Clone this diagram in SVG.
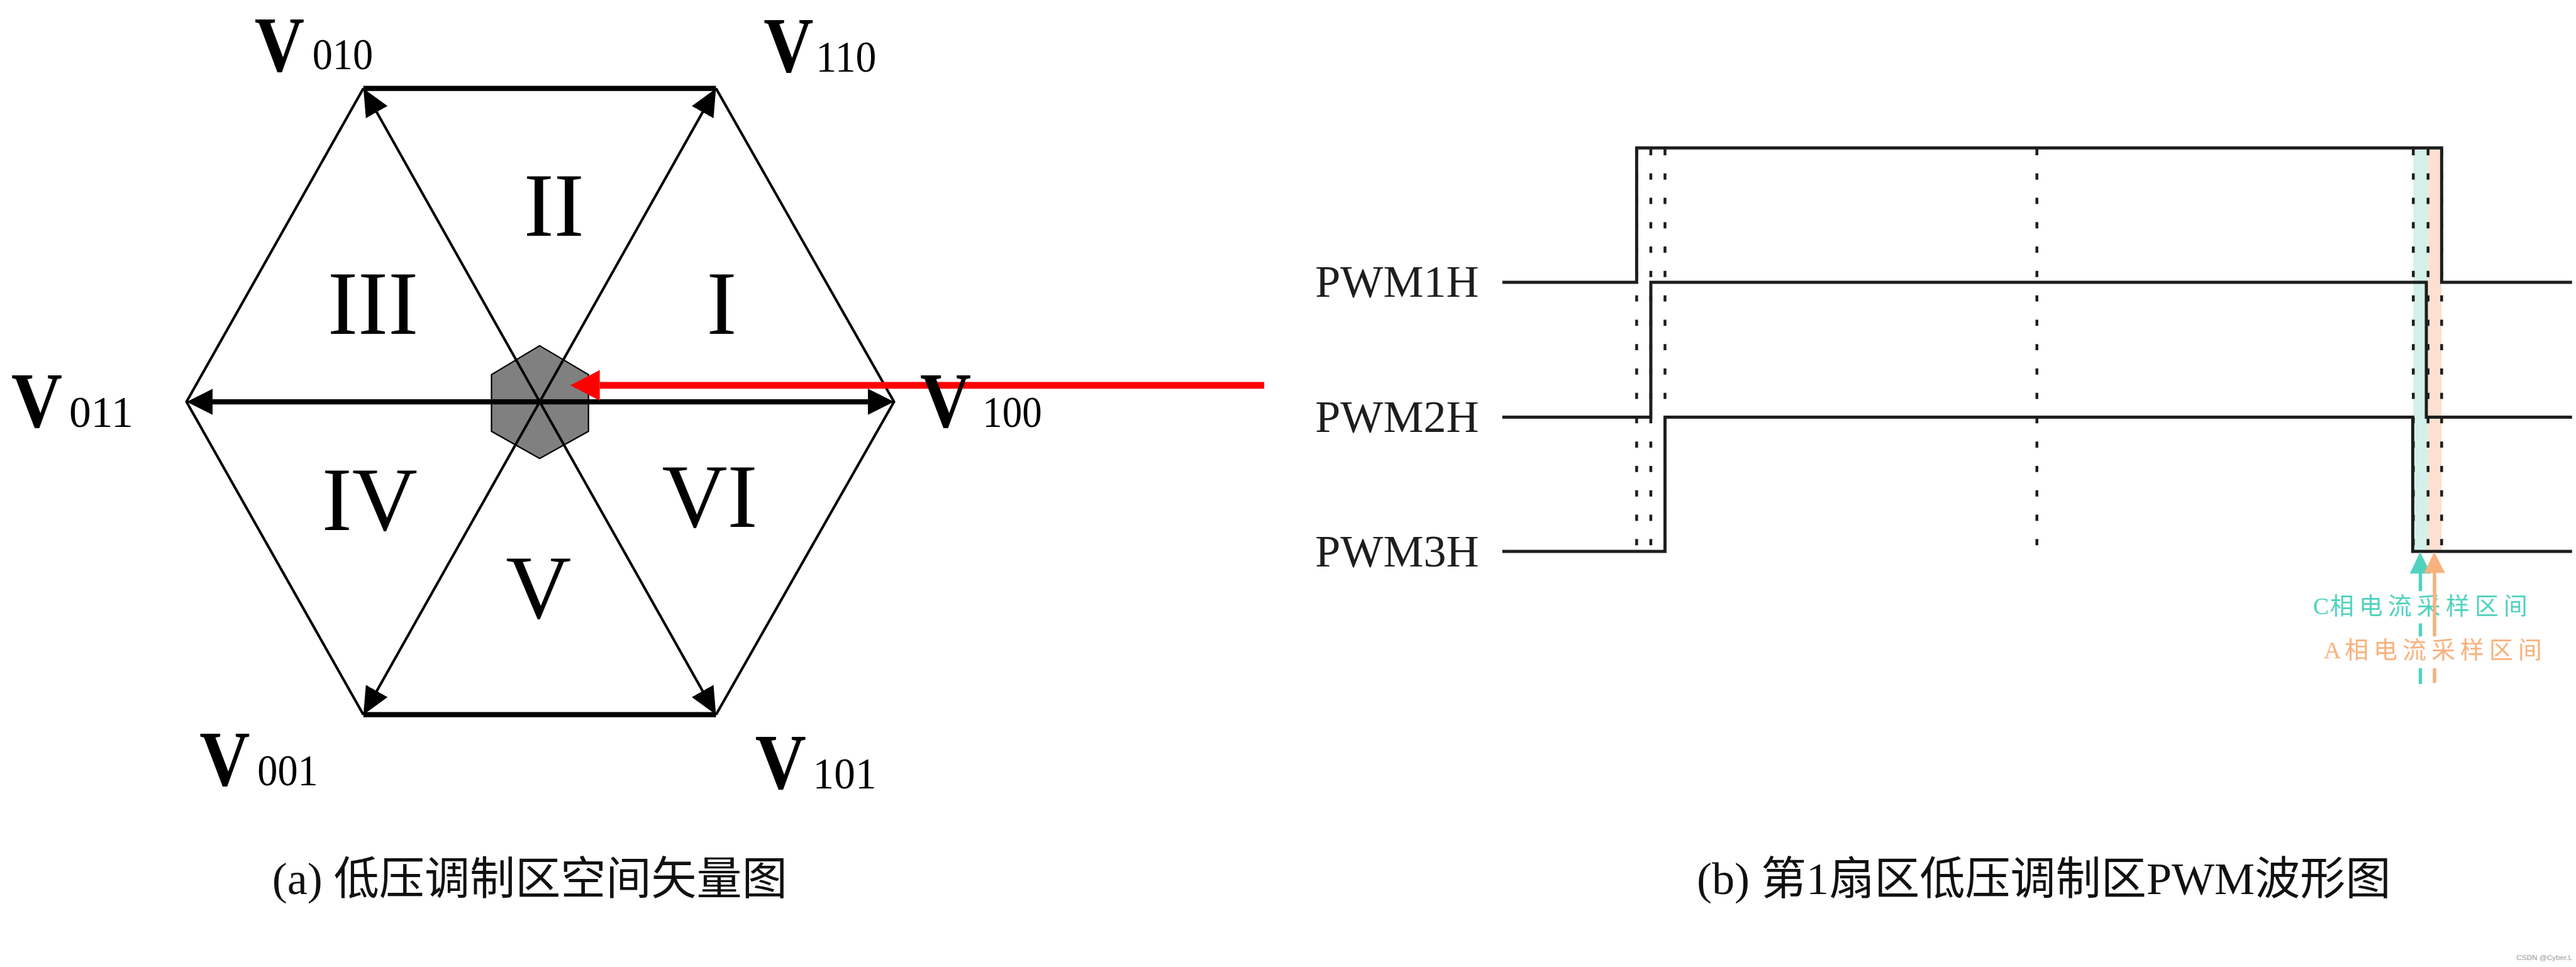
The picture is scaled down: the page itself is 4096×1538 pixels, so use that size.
<svg xmlns="http://www.w3.org/2000/svg" width="4096" height="1538" viewBox="0 0 4096 1538">
<defs>
<style>
.thin{stroke:#000;stroke-width:4.5;fill:none}
.thick{stroke:#000;stroke-width:9;fill:none}
.vb{font-family:"Liberation Serif",serif;font-weight:bold;font-size:138px;fill:#000}
.vs{font-family:"Liberation Serif",serif;font-size:78px;fill:#000}
.rn{font-family:"Liberation Serif",serif;font-size:160px;text-anchor:middle;fill:#000}
.wave{stroke:#1e1e1e;stroke-width:5.5;fill:none}
.dash{stroke:#1e1e1e;stroke-width:5;stroke-dasharray:11 32;fill:none}
.lbl{font-family:"Liberation Serif",serif;font-size:80px;fill:#1e1e1e}
.cap{font-family:"Liberation Serif","Noto Sans CJK SC",serif;font-size:80px;fill:#111}
.note{font-family:"Liberation Serif","Noto Sans CJK SC",serif;font-size:42px}
.teal{fill:#4fd3bf}
.orange{fill:#f8b27d}
.tealS{stroke:#4fd3bf;stroke-width:6;fill:none}
.orangeS{stroke:#f8b27d;stroke-width:6;fill:none}
</style>
<marker id="ahd" markerUnits="userSpaceOnUse" viewBox="0 0 48 44" markerWidth="48" markerHeight="44" refX="4" refY="22" orient="auto">
<path d="M0,0 L48,22 L0,44 z" fill="#000"/>
</marker>
<marker id="ahh" markerUnits="userSpaceOnUse" viewBox="0 0 46 46" markerWidth="46" markerHeight="46" refX="0" refY="23" orient="auto-start-reverse">
<path d="M0,0 L46,23 L0,46 z" fill="#000"/>
</marker>
<marker id="ahr" markerUnits="userSpaceOnUse" viewBox="0 0 52 54" markerWidth="52" markerHeight="54" refX="0" refY="27" orient="auto">
<path d="M0,0 L52,27 L0,54 z" fill="#ff0000"/>
</marker>
</defs>
<rect width="4096" height="1538" fill="#fff"/>
<g transform="scale(0.90141)">

<!-- Left panel: space vector hexagon -->
<g id="center-hex">
<polygon points="952,610 1038,661 1038,761 952,809 867,761 867,661" fill="#808080" stroke="#000" stroke-width="2.5"/>
</g>
<g id="hexagon">
<path class="thin" d="M641,156 L329,709 L641,1261"/>
<path class="thin" d="M1263,156 L1577,709 L1263,1261"/>
<line class="thick" x1="641" y1="156" x2="1263" y2="156"/>
<line class="thick" x1="641" y1="1261" x2="1263" y2="1261"/>
</g>
<g id="connectors">
<line class="thin" x1="952" y1="709" x2="662.6" y2="194.4" marker-end="url(#ahd)"/>
<line class="thin" x1="952" y1="709" x2="1241.4" y2="194.4" marker-end="url(#ahd)"/>
<line class="thin" x1="952" y1="709" x2="662.6" y2="1222.7" marker-end="url(#ahd)"/>
<line class="thin" x1="952" y1="709" x2="1241.4" y2="1222.7" marker-end="url(#ahd)"/>
<line class="thick" x1="375" y1="709" x2="1531" y2="709" marker-start="url(#ahh)" marker-end="url(#ahh)"/>
<line x1="2230" y1="680" x2="1058" y2="680" stroke="#ff0000" stroke-width="12" marker-end="url(#ahr)"/>
</g>
<g id="sector-labels">
<text class="rn" x="977" y="416">II</text>
<text class="rn" x="658" y="589">III</text>
<text class="rn" x="1273" y="589">I</text>
<text class="rn" x="652" y="935">IV</text>
<text class="rn" x="1252" y="930">VI</text>
<text class="rn" x="950" y="1090">V</text>
</g>
<g id="V010"><text class="vb" x="449" y="125" textLength="88" lengthAdjust="spacingAndGlyphs">V</text><text class="vs" x="551" y="122" textLength="107" lengthAdjust="spacingAndGlyphs">010</text></g>
<g id="V110"><text class="vb" x="1347" y="127" textLength="88" lengthAdjust="spacingAndGlyphs">V</text><text class="vs" x="1439" y="126" textLength="107" lengthAdjust="spacingAndGlyphs">110</text></g>
<g id="V011"><text class="vb" x="20" y="753" textLength="90" lengthAdjust="spacingAndGlyphs">V</text><text class="vs" x="122" y="753" textLength="113" lengthAdjust="spacingAndGlyphs">011</text></g>
<g id="V100"><text class="vb" x="1623" y="753" textLength="90" lengthAdjust="spacingAndGlyphs">V</text><text class="vs" x="1733" y="753" textLength="105" lengthAdjust="spacingAndGlyphs">100</text></g>
<g id="V001"><text class="vb" x="352" y="1386" textLength="89" lengthAdjust="spacingAndGlyphs">V</text><text class="vs" x="454" y="1386" textLength="107" lengthAdjust="spacingAndGlyphs">001</text></g>
<g id="V101"><text class="vb" x="1332" y="1391" textLength="90" lengthAdjust="spacingAndGlyphs">V</text><text class="vs" x="1434" y="1391" textLength="112" lengthAdjust="spacingAndGlyphs">101</text></g>

<!-- Right panel: PWM waveforms -->
<g id="sample-bands">
<rect x="4257" y="261" width="26" height="712" fill="#d3f1ea"/>
<rect x="4283" y="261" width="24" height="712" fill="#fde0d0"/>
</g>
<g id="guides">
<line class="dash" x1="2887" y1="263" x2="2887" y2="973"/>
<line class="dash" x1="2912" y1="263" x2="2912" y2="973"/>
<line class="dash" x1="2937" y1="263" x2="2937" y2="973"/>
<line class="dash" x1="3593" y1="263" x2="3593" y2="973"/>
<line class="dash" x1="4257" y1="263" x2="4257" y2="973"/>
<line class="dash" x1="4283" y1="263" x2="4283" y2="973"/>
<line class="dash" x1="4307" y1="263" x2="4307" y2="973"/>
</g>
<g id="PWM1H"><path class="wave" d="M2650,498 H2887 V261 H4307 V498 H4537"/><text class="lbl" x="2320" y="524">PWM1H</text></g>
<g id="PWM2H"><path class="wave" d="M2650,736 H2912 V498 H4280 V736 H4537"/><text class="lbl" x="2320" y="762">PWM2H</text></g>
<g id="PWM3H"><path class="wave" d="M2650,973 H2937 V736 H4256 V973 H4537"/><text class="lbl" x="2320" y="999">PWM3H</text></g>

<g id="C-phase-note">
<text class="note teal" x="4080 4110 4161 4212 4263 4314 4365 4416" y="1084">C相电流采样区间</text>
</g>
<g id="A-phase-note">
<text class="note orange" x="4099 4136 4187 4238 4289 4340 4391 4442" y="1162">A相电流采样区间</text>
</g>
<g id="sample-arrows">
<path class="tealS" d="M4269.5,1010 V1043 M4269.5,1100 V1123 M4269.5,1179 V1207"/>
<polygon class="teal" points="4269,974 4288,1012 4251,1012"/>
<path class="orangeS" d="M4294.5,1009 V1123 M4294.5,1179 V1205"/>
<polygon class="orange" points="4294,974 4313,1011 4276,1011"/>
</g>

<g id="captions">
<text class="cap" x="480" y="1578">(a) 低压调制区空间矢量图</text>
<text class="cap" x="2993" y="1578">(b) 第1扇区低压调制区PWM波形图</text>
</g>
<text x="4439" y="1694" font-family="Liberation Sans, sans-serif" font-size="13" fill="#999">CSDN @Cyber.L</text>
</g>
</svg>
